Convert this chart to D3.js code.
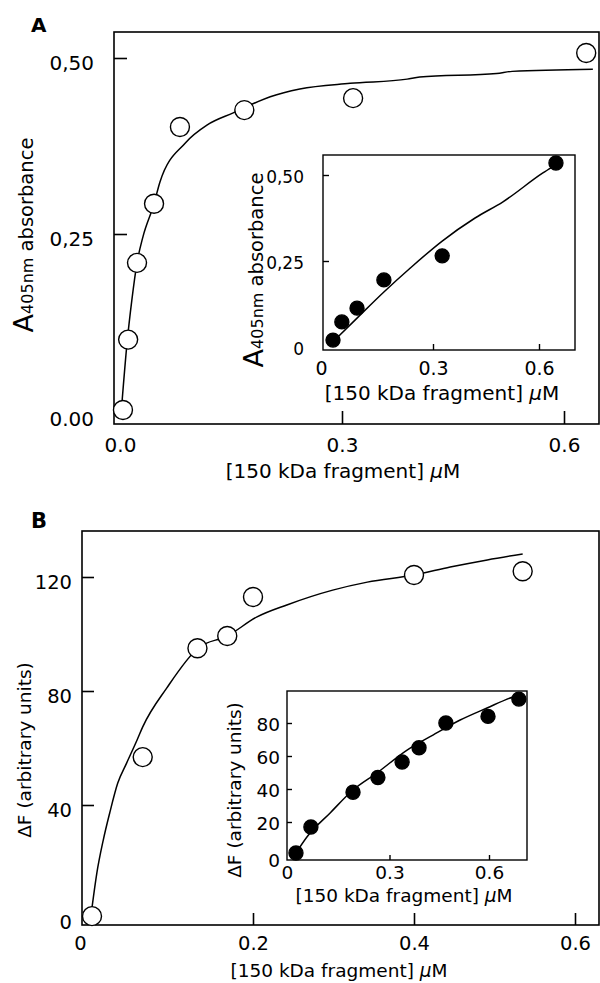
<!DOCTYPE html>
<html>
<head>
<meta charset="utf-8">
<script src="https://cdn.jsdelivr.net/npm/d3@7/dist/d3.min.js"></script>
<style>
  html, body { margin: 0; padding: 0; background: #fff; }
  svg { display: block; font-family: "DejaVu Sans", sans-serif; }
</style>
</head>
<body>
<svg id="chart" width="600" height="983"></svg>
<script>
// ---------------- DATA ----------------
// Panel A, main (open circles)
const aMainX = [0.004, 0.011, 0.023, 0.046, 0.081, 0.168, 0.315, 0.630];
const aMainY = [0.000, 0.100, 0.209, 0.293, 0.402, 0.426, 0.443, 0.507];
// Panel A, main fitted curve
const aFitX = [0.0027, 0.0095, 0.016, 0.023, 0.031, 0.046, 0.054, 0.088, 0.118, 0.153, 0.203, 0.243, 0.311, 0.388, 0.405, 0.509, 0.530, 0.639];
const aFitY = [0.011, 0.095, 0.156, 0.209, 0.246, 0.293, 0.324, 0.379, 0.405, 0.422, 0.445, 0.456, 0.464, 0.470, 0.473, 0.478, 0.481, 0.484];
// Panel A, inset (filled circles)
const aInsetX = [0.017, 0.042, 0.085, 0.161, 0.326, 0.648];
const aInsetY = [0.020, 0.073, 0.113, 0.195, 0.265, 0.535];
const aInsetFitX = [0.017, 0.085, 0.161, 0.235, 0.326, 0.419, 0.498, 0.611, 0.637];
const aInsetFitY = [0.015, 0.084, 0.160, 0.229, 0.308, 0.375, 0.422, 0.506, 0.523];

// Panel B, main (open circles)
const bMainX = [0.000, 0.063, 0.131, 0.168, 0.200, 0.400, 0.535];
const bMainY = [1, 56.8, 95, 99.3, 113, 120.7, 122];
const bFitX = [0.000, 0.006, 0.014, 0.022, 0.032, 0.043, 0.056, 0.063, 0.093, 0.132, 0.168, 0.205, 0.242, 0.299, 0.342, 0.400, 0.445, 0.491, 0.535];
const bFitY = [4, 16.1, 27.7, 37.2, 47.7, 54.7, 62.8, 67.4, 81.1, 95.1, 99.3, 106, 110.2, 115.4, 118.2, 120.7, 123.5, 126, 128.1];
// Panel B, inset (filled circles)
const bInsetX = [0.018, 0.063, 0.190, 0.265, 0.338, 0.389, 0.470, 0.597, 0.690];
const bInsetY = [1.2, 17, 38, 47, 56.4, 65, 80, 84, 94.5];
const bInsetFitX = [0.018, 0.051, 0.121, 0.190, 0.262, 0.353, 0.431, 0.513, 0.594, 0.672, 0.699];
const bInsetFitY = [1.2, 10.9, 25.5, 39.4, 49.7, 63.6, 72.7, 81.8, 89.1, 95.8, 97.6];

// Tick values / labels
const aMainXTicks = [0, 0.3, 0.6];
const aMainXLabels = ["0.0", "0.3", "0.6"];
const aMainYTicks = [0, 0.25, 0.5];
const aMainYLabels = ["0.00", "0,25", "0,50"];
const aInsetXTicks = [0, 0.3, 0.6];
const aInsetXLabels = ["0", "0.3", "0.6"];
const aInsetYTicks = [0, 0.25, 0.5];
const aInsetYLabels = ["0", "0,25", "0,50"];
const bMainXTicks = [0, 0.2, 0.4, 0.6];
const bMainXLabels = ["0", "0.2", "0.4", "0.6"];
const bMainYTicks = [0, 40, 80, 120];
const bMainYLabels = ["0", "40", "80", "120"];
const bInsetXTicks = [0, 0.3, 0.6];
const bInsetXLabels = ["0", "0.3", "0.6"];
const bInsetYTicks = [0, 20, 40, 60, 80];
const bInsetYLabels = ["0", "20", "40", "60", "80"];

const xTitle = "[150 kDa fragment] ";
const xUnit = "μM";

// ---------------- DRAW ----------------
const svg = d3.select("#chart");

function zip(xs, ys) { return xs.map((x, i) => ({x, y: ys[i]})); }

function drawPlot(cfg) {
  const x = d3.scaleLinear().domain(cfg.xDom).range(cfg.xRange);
  const y = d3.scaleLinear().domain(cfg.yDom).range(cfg.yRange);
  const g = svg.append("g");
  const f = cfg.frame; // [left, top, right, bottom]

  g.append("rect")
    .attr("x", f[0]).attr("y", f[1])
    .attr("width", f[2] - f[0]).attr("height", f[3] - f[1])
    .attr("fill", "#fff").attr("stroke", "#000").attr("stroke-width", cfg.frameW);

  // x axis
  const xa = d3.axisBottom(x).tickValues(cfg.xTicks)
    .tickFormat((d, i) => cfg.xLabels[i])
    .tickSize(-cfg.tickLen).tickPadding(cfg.xPad);
  const gx = g.append("g").attr("transform", `translate(0,${f[3]})`).call(xa);
  // y axis
  const ya = d3.axisLeft(y).tickValues(cfg.yTicks)
    .tickFormat((d, i) => cfg.yLabels[i])
    .tickSize(-cfg.tickLen).tickPadding(cfg.yPad);
  const gy = g.append("g").attr("transform", `translate(${f[0]},0)`).call(ya);

  [gx, gy].forEach(ax => {
    ax.select(".domain").remove();
    ax.selectAll(".tick line").attr("stroke", "#000").attr("stroke-width", cfg.frameW)
      .filter(d => d === 0).remove();
    ax.selectAll(".tick text").attr("fill", "#000")
      .style("font-family", '"DejaVu Sans", sans-serif');
  });
  gx.selectAll(".tick text").attr("font-size", cfg.tickFont);
  gy.selectAll(".tick text").attr("font-size", cfg.yTickFont || cfg.tickFont)
    .attr("dy", d => (d === 0 ? cfg.y0dy : cfg.ydy) + "px")
    .attr("dominant-baseline", "central");
  if (cfg.x0dx) gx.selectAll(".tick text").filter(d => d === 0).attr("dx", cfg.x0dx);

  // x title
  const xt = g.append("text")
    .attr("x", cfg.xTitlePos[0]).attr("y", cfg.xTitlePos[1])
    .attr("text-anchor", "middle").attr("font-size", cfg.titleFont)
    .attr("dominant-baseline", "central");
  xt.append("tspan").text(xTitle);
  xt.append("tspan").attr("font-style", "italic").text(xUnit.charAt(0));
  xt.append("tspan").text(xUnit.slice(1));

  // y title (baseline on the right side after rotation)
  const yt = g.append("text")
    .attr("transform", `translate(${cfg.yTitlePos[0]},${cfg.yTitlePos[1]}) rotate(-90)`)
    .attr("text-anchor", "middle");
  cfg.yTitleParts.forEach(p => yt.append("tspan").attr("font-size", p.size).text(p.t));

  // fitted curve
  const line = d3.line().x(d => x(d.x)).y(d => y(d.y)).curve(d3.curveMonotoneX);
  g.append("path").datum(zip(cfg.fitX, cfg.fitY))
    .attr("d", line).attr("fill", "none").attr("stroke", "#000")
    .attr("stroke-width", cfg.lineW);

  // points
  g.selectAll("circle.pt").data(zip(cfg.px, cfg.py)).join("circle")
    .attr("class", "pt")
    .attr("cx", d => x(d.x)).attr("cy", d => y(d.y))
    .attr("r", cfg.r)
    .attr("fill", cfg.filled ? "#000" : "#fff")
    .attr("stroke", "#000").attr("stroke-width", 1.4);
}

const aYTitle = [{t: "A", size: 27}, {t: "405nm", size: 16}, {t: " absorbance", size: 19.5}];

// Panel A main
drawPlot({
  xDom: [0, 0.6], xRange: [120, 564], yDom: [0, 0.5], yRange: [410, 58],
  frame: [114, 32, 599, 424], frameW: 1.6, tickLen: 13, xPad: 14, yPad: 20,
  ydy: 4, y0dy: 8, tickFont: 20, titleFont: 20,
  xTicks: aMainXTicks, xLabels: aMainXLabels, yTicks: aMainYTicks, yLabels: aMainYLabels,
  xTitlePos: [343, 471], yTitlePos: [33, 235], yTitleParts: aYTitle,
  fitX: aFitX, fitY: aFitY, lineW: 1.5, px: aMainX, py: aMainY, r: 9.5, filled: false
});
// Panel A inset
drawPlot({
  xDom: [0, 0.6], xRange: [327, 539], yDom: [0, 0.5], yRange: [347, 175],
  frame: [323, 155, 575, 350], frameW: 1.4, tickLen: 6, xPad: 12, yPad: 19,
  ydy: 1, y0dy: 1, x0dx: "-6px", tickFont: 19, yTickFont: 17, titleFont: 20,
  xTicks: aInsetXTicks, xLabels: aInsetXLabels, yTicks: aInsetYTicks, yLabels: aInsetYLabels,
  xTitlePos: [442, 393], yTitlePos: [263, 270], yTitleParts: aYTitle,
  fitX: aInsetFitX, fitY: aInsetFitY, lineW: 1.5, px: aInsetX, py: aInsetY, r: 7, filled: true
});
// Panel B main
const bYTitle = [{t: "ΔF (arbitrary units)", size: 18.5}];
drawPlot({
  xDom: [0, 0.6], xRange: [92, 575], yDom: [0, 120], yRange: [919, 577],
  frame: [82, 531, 599, 925], frameW: 1.6, tickLen: 12, xPad: 11, yPad: 10,
  ydy: 5, y0dy: 3, x0dx: "-12px", tickFont: 19.5, titleFont: 18.5,
  xTicks: bMainXTicks, xLabels: bMainXLabels, yTicks: bMainYTicks, yLabels: bMainYLabels,
  xTitlePos: [339, 970], yTitlePos: [31, 750], yTitleParts: bYTitle,
  fitX: bFitX, fitY: bFitY, lineW: 1.5, px: bMainX, py: bMainY, r: 9.5, filled: false
});
// Panel B inset
drawPlot({
  xDom: [0, 0.6], xRange: [290, 489], yDom: [0, 80], yRange: [855, 723],
  frame: [287, 691, 527, 860], frameW: 1.4, tickLen: 5, xPad: 6, yPad: 7,
  ydy: 1, y0dy: 5, x0dx: "-3px", tickFont: 18.5, titleFont: 18.5,
  xTicks: bInsetXTicks, xLabels: bInsetXLabels, yTicks: bInsetYTicks, yLabels: bInsetYLabels,
  xTitlePos: [404, 895], yTitlePos: [241, 790], yTitleParts: bYTitle,
  fitX: bInsetFitX, fitY: bInsetFitY, lineW: 1.5, px: bInsetX, py: bInsetY, r: 7, filled: true
});

// Panel letters
svg.append("text").attr("x", 31).attr("y", 32).attr("font-size", 20).attr("font-weight", "bold").text("A");
svg.append("text").attr("x", 31).attr("y", 528).attr("font-size", 21).attr("font-weight", "bold").text("B");
</script>
</body>
</html>
